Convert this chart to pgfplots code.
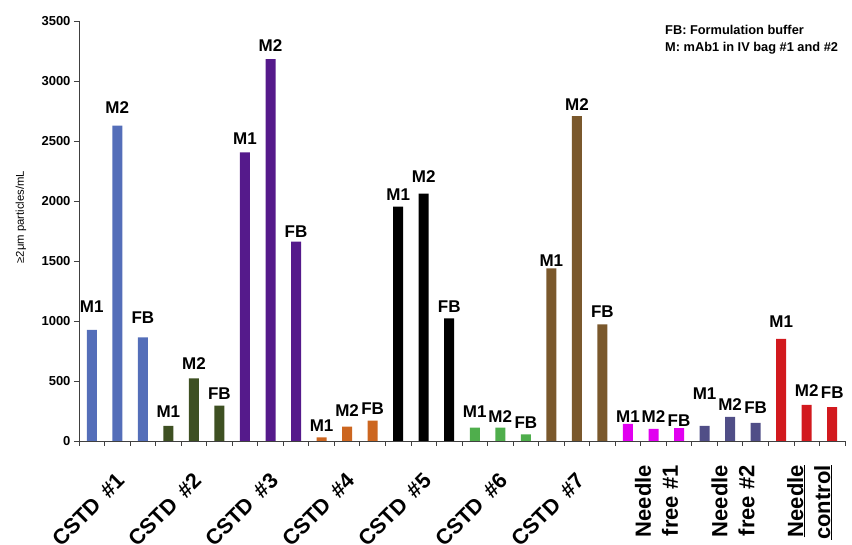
\documentclass[border=0pt]{standalone}
\usepackage{pgfplots}
\pgfplotsset{compat=1.18}
\usepackage{fontspec}
\setmainfont{Liberation Sans}
\definecolor{cA}{HTML}{546EB9}
\definecolor{cB}{HTML}{3E5022}
\definecolor{cC}{HTML}{551A8B}
\definecolor{cD}{HTML}{CC6620}
\definecolor{cE}{HTML}{000000}
\definecolor{cF}{HTML}{4FAE4C}
\definecolor{cG}{HTML}{7A582C}
\definecolor{cH}{HTML}{E100F0}
\definecolor{cI}{HTML}{504E87}
\definecolor{cJ}{HTML}{D2191E}
\tikzset{
  lab/.style={anchor=base, inner sep=0pt, font=\bfseries\fontsize{17}{17}\selectfont},
  cstd/.style={rotate=45, anchor=east, inner sep=0pt, font=\bfseries\fontsize{21.5}{21.5}\selectfont},
  ndl/.style={rotate=90, anchor=east, inner sep=0pt, align=right, font=\bfseries\fontsize{22}{27}\selectfont},
}
\begin{document}
\begin{tikzpicture}
\begin{axis}[
  scale only axis, width=766pt, height=420pt,
  xmin=-0.5, xmax=29.5, ymin=0, ymax=3500,
  axis x line*=bottom, axis y line*=left,
  axis line style={black!75, line width=0.8pt},
  xtick={-0.5,0.5,...,29.5}, xticklabels={},
  ytick={0,500,...,3500},
  tick align=outside, major tick length=5pt,
  tick style={black!75, line width=0.8pt},
  yticklabel style={font=\bfseries\fontsize{13}{13}\selectfont, /pgf/number format/assume math mode=true, /pgf/number format/1000 sep={}},
  clip=false,
  ybar, bar width=10pt,
]
\addplot[fill=cA, draw=none, bar shift=0pt] coordinates {(0,925) (1,2628) (2,864)};
\addplot[fill=cB, draw=none, bar shift=0pt] coordinates {(3,125) (4,522) (5,294)};
\addplot[fill=cC, draw=none, bar shift=0pt] coordinates {(6,2406) (7,3183) (8,1661)};
\addplot[fill=cD, draw=none, bar shift=0pt] coordinates {(9,31) (10,119) (11,169)};
\addplot[fill=cE, draw=none, bar shift=0pt] coordinates {(12,1953) (13,2061) (14,1022)};
\addplot[fill=cF, draw=none, bar shift=0pt] coordinates {(15,111) (16,111) (17,56)};
\addplot[fill=cG, draw=none, bar shift=0pt] coordinates {(18,1439) (19,2708) (20,972)};
\addplot[fill=cH, draw=none, bar shift=0pt] coordinates {(21,142) (22,100) (23,108)};
\addplot[fill=cI, draw=none, bar shift=0pt] coordinates {(24,125) (25,200) (26,150)};
\addplot[fill=cJ, draw=none, bar shift=0pt] coordinates {(27,850) (28,300) (29,283)};
% bar labels
\node[lab] at (axis cs:0,1067) {M1};
\node[lab] at (axis cs:1,2733) {M2};
\node[lab] at (axis cs:2,975) {FB};
\node[lab] at (axis cs:3,192) {M1};
\node[lab] at (axis cs:4,592) {M2};
\node[lab] at (axis cs:5,342) {FB};
\node[lab] at (axis cs:6,2467) {M1};
\node[lab] at (axis cs:7,3242) {M2};
\node[lab] at (axis cs:8,1692) {FB};
\node[lab] at (axis cs:9,75) {M1};
\node[lab] at (axis cs:10,200) {M2};
\node[lab] at (axis cs:11,217) {FB};
\node[lab] at (axis cs:12,2000) {M1};
\node[lab] at (axis cs:13,2150) {M2};
\node[lab] at (axis cs:14,1067) {FB};
\node[lab] at (axis cs:15,192) {M1};
\node[lab] at (axis cs:16,150) {M2};
\node[lab] at (axis cs:17,108) {FB};
\node[lab] at (axis cs:18,1458) {M1};
\node[lab] at (axis cs:19,2758) {M2};
\node[lab] at (axis cs:20,1033) {FB};
\node[lab] at (axis cs:21,158) {M1};
\node[lab] at (axis cs:22,158) {M2};
\node[lab] at (axis cs:23,117) {FB};
\node[lab] at (axis cs:24,342) {M1};
\node[lab] at (axis cs:25,258) {M2};
\node[lab] at (axis cs:26,225) {FB};
\node[lab] at (axis cs:27,942) {M1};
\node[lab] at (axis cs:28,367) {M2};
\node[lab] at (axis cs:29,358) {FB};
% category labels
\node[cstd] at ([xshift=4pt,yshift=-36pt]axis cs:1,0) {CSTD\hspace{0.45em}\#1};
\node[cstd] at ([xshift=4pt,yshift=-36pt]axis cs:4,0) {CSTD\hspace{0.45em}\#2};
\node[cstd] at ([xshift=4pt,yshift=-36pt]axis cs:7,0) {CSTD\hspace{0.45em}\#3};
\node[cstd] at ([xshift=4pt,yshift=-36pt]axis cs:10,0) {CSTD\hspace{0.45em}\#4};
\node[cstd] at ([xshift=4pt,yshift=-36pt]axis cs:13,0) {CSTD\hspace{0.45em}\#5};
\node[cstd] at ([xshift=4pt,yshift=-36pt]axis cs:16,0) {CSTD\hspace{0.45em}\#6};
\node[cstd] at ([xshift=4pt,yshift=-36pt]axis cs:19,0) {CSTD\hspace{0.45em}\#7};
\node[ndl] at ([xshift=3pt,yshift=-24pt]axis cs:22,0) {Needle\\free \#1};
\node[ndl] at ([xshift=3pt,yshift=-24pt]axis cs:25,0) {Needle\\free \#2};
\node[ndl] at ([xshift=3pt,yshift=-24pt]axis cs:28,0) {\underline{Needle}\\\underline{control}};
\end{axis}
\node[rotate=90, font=\fontsize{11.3}{12}\selectfont] at (-58pt,224pt) {≥2μm particles/mL};
\node[anchor=north west, inner sep=0pt, align=left, font=\bfseries\fontsize{12.8}{17}\selectfont] at (586pt,416pt) {FB: Formulation buffer\\M: mAb1 in IV bag \#1 and \#2};
\pgfresetboundingbox
\path[use as bounding box] (-79pt,-104pt) rectangle (773pt,441pt);
\end{tikzpicture}
\end{document}
